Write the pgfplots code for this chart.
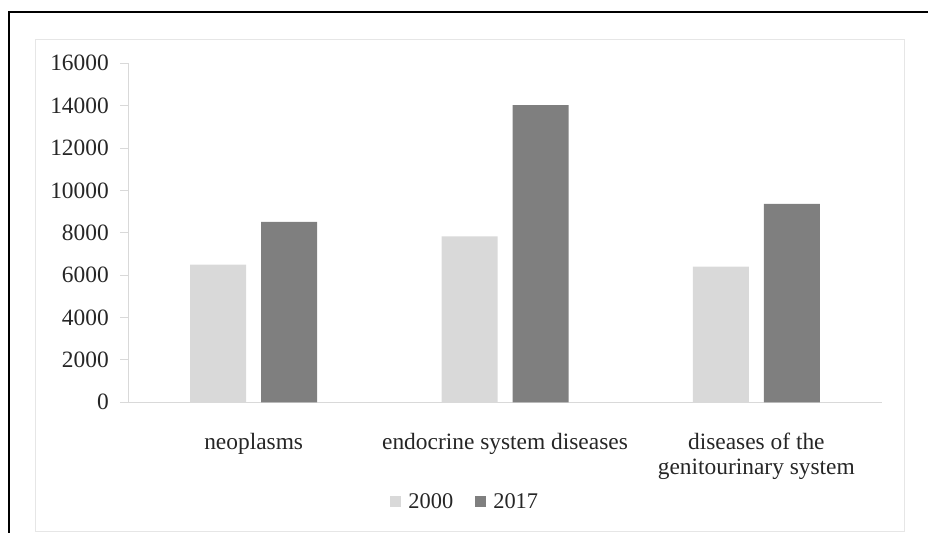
\documentclass[border=0pt]{standalone}
\usepackage{fontspec}
\setmainfont{Liberation Serif}
\usepackage{pgfplots}
\pgfplotsset{compat=1.18}
\definecolor{barlight}{HTML}{D9D9D9}
\definecolor{bardark}{HTML}{7F7F7F}
\definecolor{axisgray}{HTML}{D9D9D9}
\definecolor{framegray}{HTML}{E6E6E6}
\definecolor{txt}{HTML}{262626}
\begin{document}
\begin{tikzpicture}[x=1bp,y=1bp]
  \useasboundingbox (0,0) rectangle (928,533);
  % outer black frame (cut off at right and bottom)
  \draw[line width=2bp, black] (9,-5) -- (9,521) -- (935,521);
  % chart area border
  \draw[framegray, line width=1bp] (35,1.5) rectangle (904,493);

  \begin{axis}[
      at={(128bp,130.7bp)}, anchor=south west,
      scale only axis, width=754bp, height=339bp,
      ybar=15bp, bar width=56bp,
      xmin=-0.5, xmax=2.5, ymin=0, ymax=16000,
      xtick={0,1,2},
      xticklabels={neoplasms, endocrine system diseases, {diseases of the\\genitourinary system}},
      ytick={0,2000,...,16000},
      scaled y ticks=false,
      /pgf/number format/1000 sep={},
      /pgf/number format/assume math mode=true,
      axis x line*=bottom, axis y line*=left,
      axis line style={-, axisgray, line width=1bp},
      xtick style={draw=none},
      major y tick style={axisgray, line width=1bp},
      tick align=outside, major tick length=8bp,
      xticklabel style={anchor=north, inner sep=0pt, yshift=-23bp, align=center,
        text=txt, font=\fontsize{23.5}{25}\selectfont},
      yticklabel style={anchor=east, inner sep=0pt, xshift=-11bp,
        text=txt, font=\fontsize{23.5}{25}\selectfont},
      legend style={at={(0.446,-0.2926)}, anchor=center, draw=none, fill=none,
        legend columns=2, font=\fontsize{22.5}{24}\selectfont, text=txt,
        nodes={inner sep=0pt}, column sep=7bp,
        /tikz/every even column/.append style={column sep=22bp}},
      legend image code/.code={\fill[#1] (0bp,-5.5bp) rectangle (11bp,5.5bp);},
    ]
    \addplot[fill=barlight, draw=none] coordinates {(0,6500) (1,7830) (2,6400)};
    \addplot[fill=bardark, draw=none] coordinates {(0,8520) (1,14030) (2,9360)};
    \legend{2000,2017}
  \end{axis}
\end{tikzpicture}
\end{document}
